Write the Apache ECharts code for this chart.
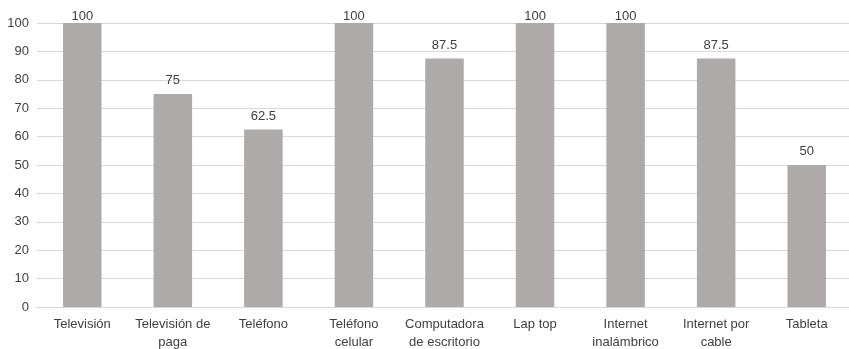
<!DOCTYPE html>
<html>
<head>
<meta charset="utf-8">
<script src="https://cdn.jsdelivr.net/npm/echarts@6/dist/echarts.min.js"></script>
<style>html,body{margin:0;padding:0;background:#fff;}#c{width:849px;height:349px;}</style>
</head>
<body>
<div id="c"></div>
<script>
const categories = ["Televisión", "Televisión de\npaga", "Teléfono", "Teléfono\ncelular", "Computadora\nde escritorio", "Lap top", "Internet\ninalámbrico", "Internet por\ncable", "Tableta"];
const values = [100, 75, 62.5, 100, 87.5, 100, 100, 87.5, 50];
const yTicks = { min: 0, max: 100, interval: 10 };

const font = "'Liberation Sans', Arial, sans-serif";
const seriesData = values.map(v => v >= yTicks.max ? { value: v, label: { distance: 0 } } : v);
const chart = echarts.init(document.getElementById('c'), null, { renderer: 'canvas' });
chart.setOption({
  animation: false,
  grid: { left: 37, top: 23, width: 815, bottom: 42, containLabel: false, outerBoundsMode: 'none' },
  xAxis: {
    type: 'category',
    data: categories,
    axisLine: { show: true, lineStyle: { color: '#d9d9d9', width: 1 } },
    axisTick: { show: false },
    axisLabel: { color: '#404040', fontFamily: font, fontSize: 13, margin: 8, lineHeight: 18, interval: 0 }
  },
  yAxis: {
    type: 'value',
    min: yTicks.min, max: yTicks.max, interval: yTicks.interval,
    axisLine: { show: false },
    axisTick: { show: false },
    splitLine: { lineStyle: { color: '#d9d9d9', width: 1 } },
    axisLabel: { color: '#404040', fontFamily: font, fontSize: 13, margin: 8 }
  },
  series: [{
    type: 'bar',
    data: seriesData,
    barWidth: 38.5,
    itemStyle: { color: '#aeaaaa' },
    label: { show: true, position: 'top', distance: 7, color: '#404040', fontFamily: font, fontSize: 13 }
  }]
});
</script>
</body>
</html>
